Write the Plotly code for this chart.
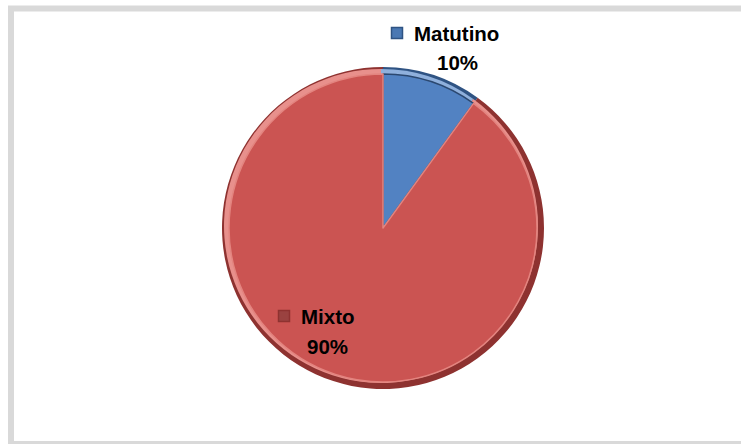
import plotly.graph_objects as go

# Turno de trabajo: share of respondents per shift
labels = ["Matutino", "Mixto"]
values = [10, 90]
colors = ["#5282c2", "#cb5452"]
rim_colors = ["#2f5383", "#8e3230"]
edge_colors = ["#2b4870", "#e3847f"]
key_colors = ["#4a78b3", "#9a4240"]

W, H = 741, 444
cx, cy, r = 383, 228, 161  # pie centre and radius in pixels


def px_x(x):
    return x / W


def px_y(y):
    return (H - y) / H


def domain(inset, dx=0, dy=0):
    rr = r - inset
    return dict(
        x=[px_x(cx + dx - rr), px_x(cx + dx + rr)],
        y=[px_y(cy + dy + rr), px_y(cy + dy - rr)],
    )


common = dict(
    labels=labels,
    values=values,
    sort=False,
    direction="clockwise",
    rotation=0,
    textinfo="none",
    hoverinfo="label+percent",
    showlegend=False,
)

fig = go.Figure()
# dark rim underneath gives the bevelled edge
fig.add_trace(go.Pie(**common, domain=domain(0), marker=dict(colors=rim_colors)))
# soft highlight toward the upper left
fig.add_trace(go.Pie(**common, domain=domain(4, -2, -2),
                     marker=dict(colors=["#8fb0dc", "#e8908c"])))
# main face
fig.add_trace(go.Pie(**common, domain=domain(7, 0, 0),
                     marker=dict(colors=colors,
                                 line=dict(color=edge_colors, width=1.5))))

font_family = "'Liberation Sans', Arial, sans-serif"
total = sum(values)
# label anchor positions (pixels): legend key centre, text centre lines
label_pos = [
    dict(sq=(397, 33), name=(456, 33), pct=(457, 62)),
    dict(sq=(284, 316), name=(328, 316), pct=(327, 346)),
]
annotations = []
shapes = []
for lab, val, key, rim, pos in zip(labels, values, key_colors, rim_colors, label_pos):
    sx, sy = pos["sq"]
    shapes.append(dict(type="rect", xref="paper", yref="paper",
                       x0=px_x(sx - 5.5), x1=px_x(sx + 5.5),
                       y0=px_y(sy + 5.5), y1=px_y(sy - 5.5),
                       fillcolor=key, line=dict(color=rim, width=1.5)))
    nx, ny = pos["name"]
    annotations.append(dict(text=f"<b>{lab}</b>", x=px_x(nx), y=px_y(ny),
                            xref="paper", yref="paper", showarrow=False,
                            xanchor="center", yanchor="middle",
                            font=dict(family=font_family, size=20.5, color="#000000")))
    tx, ty = pos["pct"]
    annotations.append(dict(text=f"<b>{round(100 * val / total)}%</b>", x=px_x(tx), y=px_y(ty),
                            xref="paper", yref="paper", showarrow=False,
                            xanchor="center", yanchor="middle",
                            font=dict(family=font_family, size=20.5, color="#000000")))

# chart area frame
shapes.insert(0, dict(type="rect", xref="paper", yref="paper",
                      x0=px_x(11), x1=px_x(W + 10), y0=px_y(444), y1=px_y(8.5),
                      line=dict(color="#d9d9d9", width=6), fillcolor="rgba(0,0,0,0)",
                      layer="below"))

fig.update_layout(
    width=W, height=H,
    margin=dict(l=0, r=0, t=0, b=0),
    paper_bgcolor="#ffffff",
    plot_bgcolor="#ffffff",
    annotations=annotations,
    shapes=shapes,
)

fig.write_html("out.html")
